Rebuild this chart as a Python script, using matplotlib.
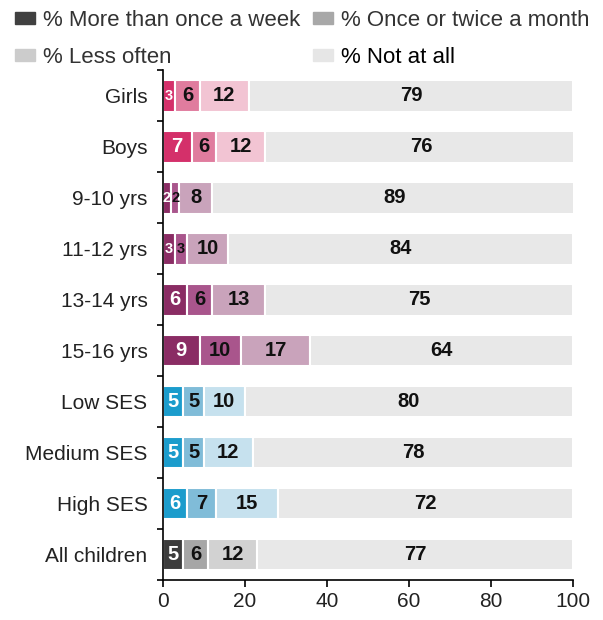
import numpy as np
import matplotlib.pyplot as plt
from matplotlib.patches import Patch

plt.rcParams['font.family'] = ['Liberation Sans', 'DejaVu Sans']

groups = ['Girls', 'Boys', '9-10 yrs', '11-12 yrs', '13-14 yrs', '15-16 yrs',
          'Low SES', 'Medium SES', 'High SES', 'All children']
weekly = [3, 7, 2, 3, 6, 9, 5, 5, 6, 5]
monthly = [6, 6, 2, 3, 6, 10, 5, 5, 7, 6]
less_often = [12, 12, 8, 10, 13, 17, 10, 12, 15, 12]
not_at_all = [79, 76, 89, 84, 75, 64, 80, 78, 72, 77]

series_names = ['% More than once a week', '% Once or twice a month',
                '% Less often', '% Not at all']

pink = ['#d4306a', '#e07c9e', '#f2c4d3']
purple = ['#8a2c64', '#a9558c', '#c9a3bb']
blue = ['#1b9ccc', '#80bcd8', '#c6e1ee']
grey = ['#3c3c3c', '#a6a6a6', '#d2d2d2']
palette = [pink, pink, purple, purple, purple, purple, blue, blue, blue, grey]
rest_color = '#e8e8e8'

fig = plt.figure(figsize=(6.03, 6.2), dpi=100)
ax = fig.add_axes([0.27, 0.0645, 0.68, 0.822])

y = np.arange(len(groups))
h = 0.62
data = [weekly, monthly, less_often, not_at_all]
left = np.zeros(len(groups))
for k, vals in enumerate(data):
    vals = np.array(vals, dtype=float)
    cols = [palette[i][k] if k < 3 else rest_color for i in range(len(groups))]
    ax.barh(y, vals, left=left, height=h, color=cols, edgecolor='white', linewidth=1.5)
    for i, v in enumerate(vals):
        tc = 'white' if k == 0 else '#111111'
        fs = 14.5 if v > 3 else 10.5
        ax.text(left[i] + v / 2, y[i], f'{int(v)}', ha='center', va='center',
                fontsize=fs, fontweight='bold', color=tc)
    left += vals

ax.set_xlim(0, 100)
ax.set_ylim(len(groups) - 0.5, -0.5)
ax.set_yticks(y)
ax.set_yticklabels(groups, fontsize=15, color='#222222')
ax.set_yticks(np.arange(-0.5, len(groups)), minor=True)
ax.tick_params(axis='y', which='major', length=0, pad=11)
ax.tick_params(axis='y', which='minor', length=4, width=1.2)
ax.set_xticks([0, 20, 40, 60, 80, 100])
ax.tick_params(axis='x', labelsize=15, length=5, width=1.2, labelcolor='#222222')
for s in ['top', 'right']:
    ax.spines[s].set_visible(False)
ax.spines['left'].set_linewidth(1.2)
ax.spines['bottom'].set_linewidth(1.2)

legend_colors = ['#404040', '#a8a8a8', '#cccccc', '#e6e6e6']
handles = [Patch(color=c) for c in legend_colors]
leg_kw = dict(loc='upper left', fontsize=16, handlelength=0.9, handleheight=0.45,
              handletextpad=0.36, labelspacing=0.72, borderaxespad=0, borderpad=0,
              frameon=False, labelcolor='#333333')
leg1 = fig.legend([handles[0], handles[2]], [series_names[0], series_names[2]],
                  bbox_to_anchor=(15 / 603, 1 - 10 / 620), **leg_kw)
leg2 = fig.legend([handles[1], handles[3]], [series_names[1], series_names[3]],
                  bbox_to_anchor=(313 / 603, 1 - 10 / 620), **leg_kw)
leg2.get_texts()[1].set_color('#000000')

fig.savefig('out.png', dpi=100)
